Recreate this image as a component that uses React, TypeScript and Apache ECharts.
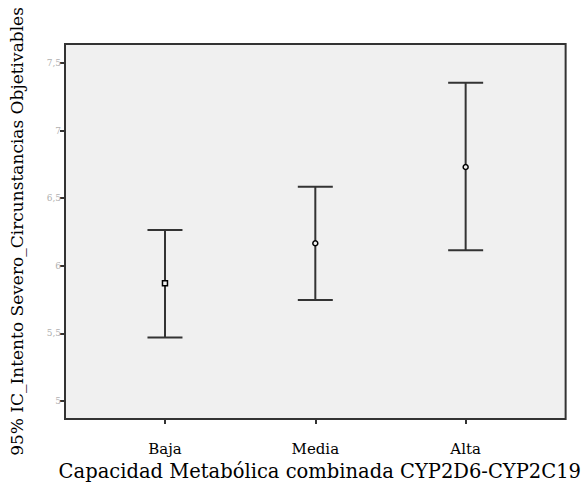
import React, { useEffect, useRef } from "react";
import * as echarts from "echarts";

const categories = ["Baja", "Media", "Alta"];
const means = [5.87, 6.166, 6.73];
const lowerCI = [5.468, 5.746, 6.114];
const upperCI = [6.264, 6.584, 7.353];
const yTicks = [5, 5.5, 6, 6.5, 7, 7.5];
const xTitle = "Capacidad Metabólica combinada CYP2D6-CYP2C19";
const yTitle = "95% IC_Intento Severo_Circunstancias Objetivables";

export default function App() {
  const ref = useRef<HTMLDivElement>(null);
  useEffect(() => {
    if (!ref.current) return;
    const chart = echarts.init(ref.current, null, { renderer: "svg" });
    const data = categories.map((c, i) => [i + 1, lowerCI[i], means[i], upperCI[i]]);
    chart.setOption({
      animation: false,
      backgroundColor: "#ffffff",
      grid: {
        left: 65,
        top: 44,
        right: 13,
        bottom: 76,
        show: true,
        backgroundColor: "#f0f0f0",
        borderColor: "#333333",
        borderWidth: 2,
      },
      xAxis: {
        type: "value",
        min: 0.335,
        max: 3.665,
        splitLine: { show: false },
        axisLine: { show: false },
        axisTick: {
          show: true,
          customValues: [1, 2, 3],
          length: 5,
          lineStyle: { color: "#333333", width: 2 },
        },
        axisLabel: {
          customValues: [1, 2, 3],
          formatter: (v: number) => categories[Math.round(v) - 1] ?? "",
          fontFamily: "DejaVu Serif",
          fontSize: 15,
          color: "#000000",
          margin: 22,
          hideOverlap: false,
        },
        name: xTitle,
        nameLocation: "middle",
        nameGap: 42,
        nameTextStyle: { fontFamily: "DejaVu Serif", fontSize: 19.5, color: "#000000", padding: [0, 0, 0, 9] },
      },
      yAxis: {
        type: "value",
        min: 4.866,
        max: 7.64,
        splitLine: { show: false },
        axisLine: { show: false },
        axisTick: {
          show: true,
          customValues: yTicks,
          length: 5,
          lineStyle: { color: "#333333", width: 2 },
        },
        axisLabel: {
          customValues: yTicks,
          formatter: (v: number) => (Number.isInteger(v) ? v.toFixed(0) : v.toFixed(1).replace(".", ",")),
          fontFamily: "DejaVu Serif",
          fontSize: 9,
          color: "#b0b0b0",
          margin: 4,
          hideOverlap: false,
          showMinLabel: true,
          showMaxLabel: true,
        },
        name: yTitle,
        nameLocation: "middle",
        nameGap: 40,
        nameTextStyle: { fontFamily: "DejaVu Serif", fontSize: 17, color: "#000000" },
      },
      series: [
        {
          type: "custom",
          data,
          renderItem: (params: any, api: any) => {
            const x = api.value(0);
            const lo = api.coord([x, api.value(1)]);
            const mid = api.coord([x, api.value(2)]);
            const hi = api.coord([x, api.value(3)]);
            const half = 17.5;
            const ls = { stroke: "#333333", lineWidth: 2 };
            const idx = params.dataIndex;
            const marker =
              idx === 0
                ? {
                    type: "rect",
                    shape: { x: mid[0] - 2.5, y: mid[1] - 2.5, width: 5, height: 5 },
                    style: { fill: "#f0f0f0", stroke: "#000000", lineWidth: 1.5 },
                  }
                : {
                    type: "circle",
                    shape: { cx: mid[0], cy: mid[1], r: 2.5 },
                    style: { fill: "#f0f0f0", stroke: "#000000", lineWidth: 1.5 },
                  };
            return {
              type: "group",
              children: [
                { type: "line", shape: { x1: hi[0], y1: hi[1], x2: lo[0], y2: lo[1] }, style: ls },
                { type: "line", shape: { x1: hi[0] - half, y1: hi[1], x2: hi[0] + half, y2: hi[1] }, style: ls },
                { type: "line", shape: { x1: lo[0] - half, y1: lo[1], x2: lo[0] + half, y2: lo[1] }, style: ls },
                marker,
              ],
            };
          },
        },
      ],
    });
    return () => chart.dispose();
  }, []);
  return <div ref={ref} style={{ width: 584, height: 495, position: "absolute", left: 0, top: 0 }} />;
}
